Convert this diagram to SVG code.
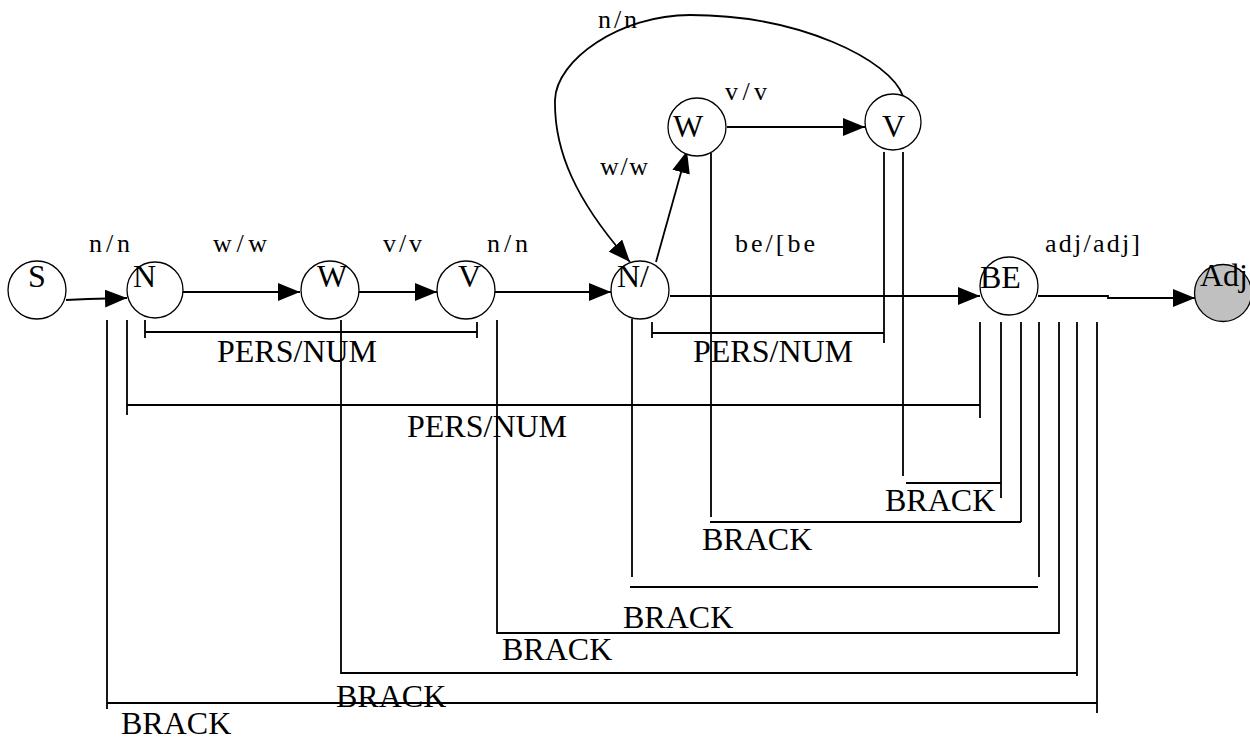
<svg xmlns="http://www.w3.org/2000/svg" width="1250" height="740" viewBox="0 0 1250 740">
<style>
  .node { fill: #ffffff; stroke: #000000; stroke-width: 1.3; }
  .final { fill: #c0c0c0; stroke: #000000; stroke-width: 1.3; }
  .nl { font-family: "Liberation Serif", "Times New Roman", serif; font-size: 32px; fill: #000; }
  .el { font-family: "Liberation Serif", "Times New Roman", serif; font-size: 26px; fill: #000; }
  .bl { font-family: "Liberation Serif", "Times New Roman", serif; font-size: 32px; fill: #000; }
  .edge { fill: none; stroke: #000; stroke-width: 1.8; marker-end: url(#arrow); }
  .br { fill: none; stroke: #000; stroke-width: 1.8; }
</style>
<defs>
  <marker id="arrow" viewBox="0 0 22 18" refX="22" refY="9" markerWidth="22" markerHeight="18" markerUnits="userSpaceOnUse" orient="auto">
    <path d="M0,0 L22,9 L0,18 z" fill="#000"/>
  </marker>
</defs>
<rect x="0" y="0" width="1250" height="740" fill="#ffffff"/>

<g id="connectors">
  <path class="edge" d="M66,300 L88,299 L127,298"/>
  <path class="edge" d="M183,292 L300,292"/>
  <path class="edge" d="M359,292 L437,292"/>
  <path class="edge" d="M495,292 L611,292"/>
  <path class="edge" d="M670,296 L980,296"/>
  <path class="edge" d="M1038,296 L1108,296 L1108,298 L1195,298"/>
  <path class="edge" d="M656,262 L687,151"/>
  <path class="edge" d="M727,127 L865,127"/>
  <path class="edge" d="M903,96 C890,60 800,15 690,15 C620,15 556,60 555,100 C554,150 575,200 630,262"/>

  <g id="brackets">
    <!-- PERS/NUM brackets -->
    <path class="br" d="M145,320 L145,338 M145,332 L477,332 M477,322 L477,338"/>
    <path class="br" d="M652,322 L652,338 M652,333 L884,333 M884,152 L884,343"/>
    <path class="br" d="M127,320 L127,415 M127,405 L980,405 M980,322 L980,418"/>
    <!-- BRACK brackets -->
    <path class="br" d="M903,152 L903,476 M906,483 L1001,483 M1001,322 L1001,498"/>
    <path class="br" d="M711,153 L711,517 M710,522 L1021,522 M1021,322 L1021,522"/>
    <path class="br" d="M632,319 L632,577 M630,587 L1038,587 M1039,322 L1039,577"/>
    <path class="br" d="M497,320 L497,633 L1059,633 L1059,322"/>
    <path class="br" d="M341,320 L341,673 L1077,673 M1077,322 L1077,676"/>
    <path class="br" d="M107,320 L107,709 M107,703 L1097,703 M1097,322 L1097,713"/>
  </g>

  <g id="edge-labels">
    <text class="el" x="89" y="252" textLength="41" lengthAdjust="spacing">n/n</text>
    <text class="el" x="213" y="252" textLength="54" lengthAdjust="spacing">w/w</text>
    <text class="el" x="383" y="252" textLength="39" lengthAdjust="spacing">v/v</text>
    <text class="el" x="487" y="252" textLength="41" lengthAdjust="spacing">n/n</text>
    <text class="el" x="735" y="252" textLength="80" lengthAdjust="spacing">be/[be</text>
    <text class="el" x="1045" y="252" textLength="95" lengthAdjust="spacing">adj/adj]</text>
    <text class="el" x="598" y="28" textLength="39" lengthAdjust="spacing">n/n</text>
    <text class="el" x="725" y="100" textLength="42" lengthAdjust="spacing">v/v</text>
    <text class="el" x="600" y="175" textLength="48" lengthAdjust="spacing">w/w</text>
  </g>

  <g id="bracket-labels">
    <text class="bl" x="217" y="362">PERS/NUM</text>
    <text class="bl" x="693" y="362">PERS/NUM</text>
    <text class="bl" x="407" y="437">PERS/NUM</text>
    <text class="bl" x="885" y="511">BRACK</text>
    <text class="bl" x="702" y="550">BRACK</text>
    <text class="bl" x="623" y="628">BRACK</text>
    <text class="bl" x="502" y="660">BRACK</text>
    <text class="bl" x="336" y="707">BRACK</text>
    <text class="bl" x="121" y="734">BRACK</text>
  </g>
</g>

<g id="node-S"><circle class="node" cx="37" cy="290" r="29"/><text class="nl" x="28" y="287">S</text></g>
<g id="node-N"><circle class="node" cx="155" cy="290" r="28"/><text class="nl" x="133" y="287">N</text></g>
<g id="node-W"><circle class="node" cx="330" cy="290" r="29"/><text class="nl" x="317" y="287">W</text></g>
<g id="node-V"><circle class="node" cx="466" cy="290" r="29"/><text class="nl" x="458" y="287">V</text></g>
<g id="node-N2"><circle class="node" cx="640" cy="290" r="29"/><text class="nl" x="617" y="287">N/</text></g>
<g id="node-BE"><circle class="node" cx="1009" cy="286" r="29"/><text class="nl" x="980" y="288">BE</text></g>
<g id="node-Adj"><circle class="final" cx="1223" cy="293" r="28.5"/><text class="nl" x="1200" y="286">Adj</text></g>
<g id="node-W2"><circle class="node" cx="697" cy="127" r="29"/><text class="nl" x="673" y="137">W</text></g>
<g id="node-V2"><circle class="node" cx="893" cy="122" r="28"/><text class="nl" x="882" y="137">V</text></g>
</svg>
